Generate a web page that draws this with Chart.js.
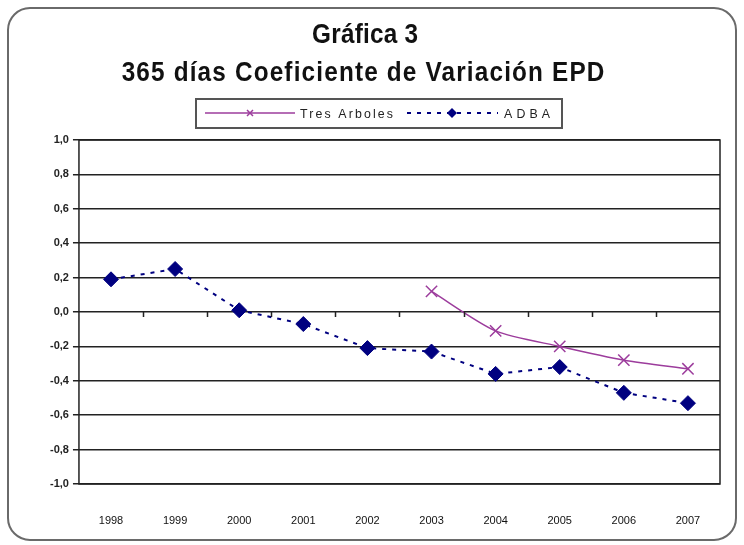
<!DOCTYPE html>
<html>
<head>
<meta charset="utf-8">
<script src="https://cdn.jsdelivr.net/npm/chart.js@4/dist/chart.umd.min.js"></script>
<style>
  body { margin: 0; background: #fff; }
</style>
</head>
<body>
<canvas id="grafica" width="744" height="545"></canvas>
<script>
// datos
var years = ["1998", "1999", "2000", "2001", "2002", "2003", "2004", "2005", "2006", "2007"];
var tresArboles = [null, null, null, null, null, 0.12, -0.11, -0.20, -0.28, -0.33];
var adba = [0.19, 0.25, 0.01, -0.07, -0.21, -0.23, -0.36, -0.32, -0.47, -0.53];
var titleLines = ["Gráfica 3", "365 días Coeficiente de Variación EPD"];

var purple = "#9c3c9c";
var navy = "#000080";

// texto estrecho estirado al ancho que ocupa en la imagen
function narrowText(ctx, text, cx, cy, width, sx) {
    ctx.save();
    ctx.translate(cx, cy);
    ctx.scale(sx, 1);
    ctx.letterSpacing = "0px";
    var w = ctx.measureText(text).width;
    var extra = Math.max(0, (width / sx - w) / text.length);
    ctx.letterSpacing = extra.toFixed(2) + "px";
    ctx.fillText(text, extra / 2, 0);
    ctx.restore();
}

// marco, titulo, leyenda y marcas del eje x sobre el cero
var decoPlugin = {
    id: "deco",
    beforeDraw: function (chart) {
        var ctx = chart.ctx;
        ctx.save();
        ctx.fillStyle = "#fff";
        ctx.fillRect(0, 0, chart.width, chart.height);
        ctx.strokeStyle = "#6a6a6a";
        ctx.lineWidth = 2;
        ctx.beginPath();
        ctx.roundRect(8, 8, 728, 532, 22);
        ctx.stroke();

        ctx.fillStyle = "#111";
        ctx.font = "bold 27px 'Liberation Sans', Arial, sans-serif";
        ctx.textAlign = "center";
        ctx.textBaseline = "middle";
        narrowText(ctx, titleLines[0], 365, 36, 106, 0.9);
        narrowText(ctx, titleLines[1], 363, 74, 484, 0.9);

        // leyenda
        ctx.strokeStyle = "#555";
        ctx.lineWidth = 2;
        ctx.strokeRect(196, 99, 366, 29);
        var ly = 113;
        ctx.strokeStyle = purple;
        ctx.lineWidth = 1.5;
        ctx.beginPath();
        ctx.moveTo(205, ly); ctx.lineTo(295, ly); ctx.stroke();
        ctx.beginPath();
        ctx.moveTo(247, ly - 3); ctx.lineTo(253, ly + 3);
        ctx.moveTo(253, ly - 3); ctx.lineTo(247, ly + 3);
        ctx.stroke();
        ctx.strokeStyle = navy;
        ctx.lineWidth = 2;
        ctx.setLineDash([4, 6]);
        ctx.beginPath();
        ctx.moveTo(407, ly); ctx.lineTo(498, ly); ctx.stroke();
        ctx.setLineDash([]);
        ctx.fillStyle = navy;
        ctx.beginPath();
        ctx.moveTo(452, ly - 5); ctx.lineTo(457, ly); ctx.lineTo(452, ly + 5); ctx.lineTo(447, ly);
        ctx.closePath(); ctx.fill();
        ctx.fillStyle = "#222";
        ctx.font = "13px 'Liberation Sans', Arial";
        ctx.textAlign = "left";
        narrowText(ctx, "Tres Arboles", 299, ly + 1, 95, 0.95);
        narrowText(ctx, "ADBA", 502, ly + 1, 50, 0.95);
        ctx.restore();
    },
    afterDatasetsDraw: function (chart) {
        var ctx = chart.ctx;
        var area = chart.chartArea;
        var xs = chart.scales.x;
        var ys = chart.scales.y;
        ctx.save();
        ctx.strokeStyle = "#222";
        ctx.lineWidth = 1.5;
        ctx.strokeRect(area.left, area.top, area.right - area.left, area.bottom - area.top);
        var y0 = ys.getPixelForValue(0);
        var step = xs.getPixelForValue(1) - xs.getPixelForValue(0);
        ctx.beginPath();
        for (var i = 1; i < years.length; i++) {
            var px = Math.round(xs.getPixelForValue(i) - step / 2) + 0.5;
            ctx.moveTo(px, y0); ctx.lineTo(px, y0 + 5);
        }
        ctx.stroke();
        ctx.restore();
    }
};

new Chart(document.getElementById("grafica").getContext("2d"), {
    type: "line",
    data: {
        labels: years,
        datasets: [{
            label: "Tres Arboles",
            data: tresArboles,
            borderColor: purple,
            backgroundColor: purple,
            borderWidth: 1.5,
            pointStyle: "crossRot",
            pointRadius: 8,
            pointBorderWidth: 1.5,
            tension: 0.25,
            spanGaps: false
        }, {
            label: "ADBA",
            data: adba,
            borderColor: navy,
            backgroundColor: navy,
            borderWidth: 2,
            borderDash: [4, 6],
            pointStyle: "rectRot",
            pointRadius: 7.5,
            pointBorderWidth: 1,
            tension: 0
        }]
    },
    options: {
        responsive: false,
        animation: false,
        layout: { padding: { top: 140, left: 46, right: 24, bottom: 0 } },
        plugins: {
            legend: { display: false },
            title: { display: false },
            tooltip: { enabled: false }
        },
        scales: {
            x: {
                offset: true,
                grid: { display: false },
                border: { display: false },
                afterFit: function (scale) { scale.height = 61; },
                ticks: {
                    color: "#111",
                    padding: 22,
                    maxRotation: 0,
                    font: { family: "'Liberation Sans', Arial", size: 11 }
                }
            },
            y: {
                min: -1,
                max: 1,
                grid: { color: "#222", lineWidth: 1.5, tickLength: 6 },
                border: { display: false },
                ticks: {
                    stepSize: 0.2,
                    color: "#222",
                    padding: 4,
                    font: { family: "'Liberation Sans', Arial", size: 11, weight: "bold" },
                    callback: function (v) { return (Math.abs(v) < 1e-9 ? 0 : v).toFixed(1).replace(".", ","); }
                }
            }
        }
    },
    plugins: [decoPlugin]
});
</script>
</body>
</html>
